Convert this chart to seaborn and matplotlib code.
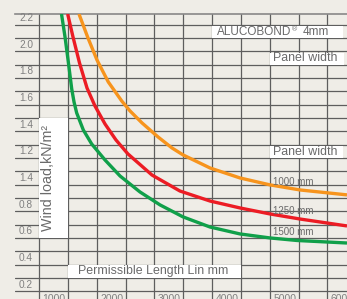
import numpy as np
import pandas as pd
import matplotlib
matplotlib.use("Agg")
import matplotlib.pyplot as plt
import seaborn as sns
from matplotlib.patches import Rectangle

# ---------------- data ----------------
green_len = [1390, 1451, 1508, 1567, 1607, 1653, 1768, 1913, 2144, 2404, 2750, 3097, 3496, 3964, 4484, 5004, 5471, 6338]
green_load = [2.280, 2.108, 1.920, 1.718, 1.620, 1.538, 1.410, 1.305, 1.185, 1.065, 0.945, 0.848, 0.758, 0.682, 0.630, 0.600, 0.581, 0.562]

red_len = [1497, 1589, 1702, 1832, 1970, 2144, 2334, 2542, 2958, 3443, 3964, 4484, 5004, 5524, 6338]
red_load = [2.280, 2.108, 1.913, 1.725, 1.590, 1.455, 1.335, 1.230, 1.072, 0.952, 0.877, 0.825, 0.780, 0.742, 0.690]

orange_len = [1693, 1849, 2005, 2201, 2433, 2577, 2785, 3062, 3305, 3496, 3964, 4484, 5004, 5524, 6338]
orange_load = [2.280, 2.100, 1.935, 1.770, 1.628, 1.553, 1.463, 1.358, 1.275, 1.223, 1.125, 1.050, 0.998, 0.960, 0.923]

panel_widths = ["1000 mm", "1250 mm", "1500 mm"]
y_tick_values = [2.2, 2.0, 1.8, 1.6, 1.4, 1.2, 1.0, 0.8, 0.6, 0.4, 0.2]
y_tick_labels = ["2.2", "2.0", "1.8", "1.6", "1.4", "1.2", "1.4", "0.8", "0.6", "0.4", "0.2"]
x_tick_values = [1000, 2000, 3000, 4000, 5000, 6000]
x_tick_labels = ["1000", "2000", "3000", "4000", "5000", "6000"]

# ---------------- style ----------------
BG = "#efede7"
GRID = "#5e5e5e"
TXT = "#6a6a6a"
TICK = "#808080"
colors = {"1000 mm": "#f7941d", "1250 mm": "#ec1c24", "1500 mm": "#10a04a"}

sns.set_style("white")
plt.rcParams["font.family"] = ["Liberation Sans", "DejaVu Sans"]

df = pd.concat([
    pd.DataFrame({"length": orange_len, "load": orange_load, "width": panel_widths[0]}),
    pd.DataFrame({"length": red_len, "load": red_load, "width": panel_widths[1]}),
    pd.DataFrame({"length": green_len, "load": green_load, "width": panel_widths[2]}),
], ignore_index=True)

fig = plt.figure(figsize=(3.47, 2.99), dpi=100, facecolor=BG)
ax = fig.add_axes([15 / 347, 0, 332 / 347, 285 / 299])
ax.set_facecolor(BG)

sns.lineplot(data=df, x="length", y="load", hue="width", palette=colors,
             sort=False, estimator=None, linewidth=2.4, legend=False,
             ax=ax, zorder=5)
for ln in ax.lines:
    ln.set_solid_joinstyle("round")
    ln.set_solid_capstyle("butt")

ax.set_xlim(584, 6338)
ax.set_ylim(0.142, 2.28)

# grid
for xv in np.arange(1000, 6501, 500):
    ax.axvline(xv, color=GRID, lw=0.9, zorder=1)
for yv in np.arange(0.2, 2.25, 0.1):
    ax.axhline(yv, color=GRID, lw=0.9, zorder=1)

for s in ["left", "right", "bottom"]:
    ax.spines[s].set_visible(False)
ax.spines["top"].set_color("#888888")
ax.spines["top"].set_linewidth(1.2)
ax.set_xticks([])
ax.set_yticks([])
ax.set_xlabel("")
ax.set_ylabel("")

# white boxes
boxes = [
    (1000, 0.6, 500, 0.9),      # wind load
    (1500, 0.3, 3000, 0.1),     # permissible length
    (4000, 2.1, 2270, 0.09),    # ALUCOBOND
    (5000, 1.9, 1280, 0.09),    # panel width 1
    (5000, 1.2, 1270, 0.09),    # panel width 2
]
for (bx, by, bw, bh) in boxes:
    ax.add_patch(Rectangle((bx, by), bw, bh, facecolor="white",
                           edgecolor="none", zorder=2))

# texts
ax.text(1156, 1.05, "Wind load,kN/m²", rotation=90, ha="center", va="center",
        fontsize=10.3, color=TXT, zorder=6)
ax.text(1676, 0.35, "Permissible Length Lin mm", ha="left", va="center",
        fontsize=8.9, color=TXT, zorder=6)
t_alu = ax.text(4085, 2.148, "ALUCOBOND", ha="left", va="center",
                fontsize=8.5, color=TXT, zorder=6)
ax.annotate("®", xy=(1.0, 0.95), xycoords=t_alu, xytext=(0.3, 0),
            textcoords="offset points", ha="left", va="top",
            fontsize=5, color=TXT, zorder=6)
ax.annotate("4mm", xy=(1.0, 0.5), xycoords=t_alu, xytext=(8, 0),
            textcoords="offset points", ha="left", va="center",
            fontsize=8.5, color=TXT, zorder=6)
ax.text(5055, 1.947, "Panel width", ha="left", va="center",
        fontsize=8.9, color=TXT, zorder=6)
ax.text(5055, 1.247, "Panel width", ha="left", va="center",
        fontsize=8.9, color=TXT, zorder=6)

for lab, yb in zip(panel_widths, [0.998, 0.778, 0.622]):
    ax.text(5055, yb, lab, ha="left", va="baseline", fontsize=7.0,
            color=TXT, zorder=6)

for v, lab in zip(y_tick_values, y_tick_labels):
    ax.text(896, v + 0.012, lab, ha="right", va="bottom", fontsize=7.3,
            color=TICK, zorder=6)
for v, lab in zip(x_tick_values, x_tick_labels):
    ax.text(v + 60, 0.182, lab, ha="left", va="top", fontsize=7.5,
            color=TICK, zorder=6)

fig.savefig("out.png", dpi=100, facecolor=BG)
